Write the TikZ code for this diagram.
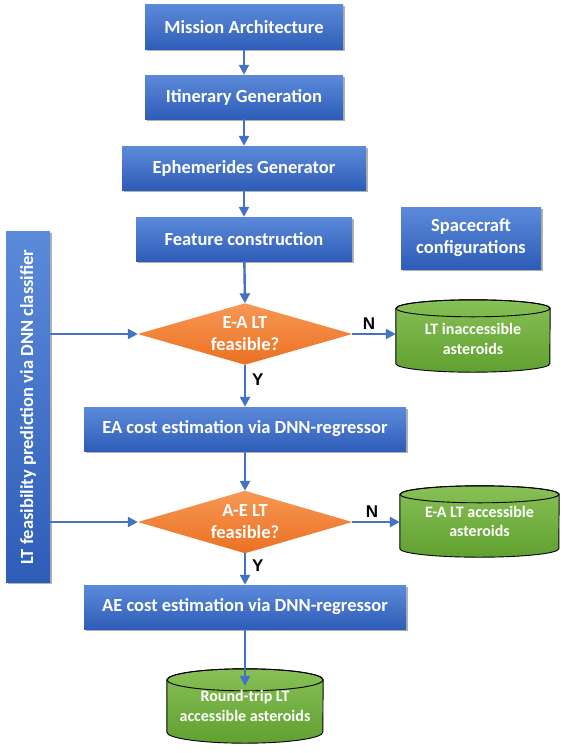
\documentclass[tikz,border=0pt]{standalone}
\usepackage{fontspec}
\setmainfont{Carlito}
\newfontfamily\arialfont{Liberation Sans}
\usetikzlibrary{shadows,arrows.meta,calc,backgrounds}
\definecolor{btop}{RGB}{92,138,218}
\definecolor{bbot}{RGB}{46,93,184}
\definecolor{otop}{RGB}{246,152,84}
\definecolor{obot}{RGB}{236,112,34}
\definecolor{gtop}{RGB}{136,192,86}
\definecolor{gbot}{RGB}{96,160,48}
\definecolor{arr}{RGB}{68,114,196}
\newcommand\cylbody[3]{%
  \path[cylshade] ($(#1.north west)+(0,#3)$) -- ($(#1.south west)+(0,-#3)$)
    arc[start angle=180,end angle=360,x radius=#2pt,y radius=#3pt]
    -- ($(#1.north east)+(0,#3)$)
    arc[start angle=0,end angle=180,x radius=#2pt,y radius=#3pt] -- cycle;
  \draw[cylline] ($(#1.north)+(0,#3)$) ellipse[x radius=#2pt,y radius=#3pt];
}
\begin{document}
\begin{tikzpicture}[x=1pt,y=-1pt,
  txt/.style={text=white,font=\fontsize{18.5}{22}\selectfont\bfseries,align=center,inner sep=0pt},
  box/.style={txt,rectangle,top color=btop,bottom color=bbot,draw=none,
    drop shadow={shadow xshift=1.5pt,shadow yshift=-1.5pt,opacity=0.3,fill=black}},
  dia/.style={txt,rectangle,draw=none},
  cyl/.style={txt,rectangle,draw=none,font=\fontsize{16}{19.5}\selectfont\bfseries},
  diashade/.style={top color=otop,bottom color=obot,draw=none},
  cylshade/.style={top color=gtop,bottom color=gbot,draw=black,line width=0.9pt},
  cylline/.style={draw=black,line width=0.9pt},
  flow/.style={draw=arr,line width=2.4pt,-{Triangle[length=10pt,width=10pt]}},
  yn/.style={font=\arialfont\bfseries\fontsize{17}{19}\selectfont,text=black,inner sep=0pt}]
\useasboundingbox (0,0) rectangle (563,753);
\node[box,minimum width=198pt,minimum height=45pt] (ma) at (244,27) {Mission Architecture};
\node[box,minimum width=198pt,minimum height=44pt] (ig) at (244,97) {Itinerary Generation};
\node[box,minimum width=244pt,minimum height=44pt] (eg) at (244,168) {Ephemerides Generator};
\node[box,minimum width=216pt,minimum height=44pt] (fc) at (244,239) {Feature construction};
\node[box,minimum width=140pt,minimum height=62pt] (sc) at (471,238) {Spacecraft\\configurations};
\node[box,rotate=90,minimum width=351pt,minimum height=44pt] (bar) at (28,407) {LT feasibility prediction via DNN classifier};
\node[dia,minimum width=214pt,minimum height=61pt] (d1) at (245,334) {E-A LT\\feasible?};
\node[cyl,minimum width=154pt,minimum height=72pt] (c1) at (473,336) {\\[-2pt]LT inaccessible\\asteroids};
\node[box,minimum width=322pt,minimum height=44pt] (ea) at (245,429) {EA cost estimation via DNN-regressor};
\node[dia,minimum width=214pt,minimum height=62pt] (d2) at (245,522) {A-E LT\\feasible?};
\node[cyl,minimum width=159pt,minimum height=71pt] (c2) at (479.5,521.5) {E-A LT accessible\\asteroids};
\node[box,minimum width=322pt,minimum height=44pt] (ae) at (245,607) {AE cost estimation via DNN-regressor};
\node[cyl,minimum width=156pt,minimum height=74pt] (c3) at (245,706) {Round-trip LT\\accessible asteroids};
\begin{scope}[on background layer]
  \path[diashade] (d1.north) -- (d1.east) -- (d1.south) -- (d1.west) -- cycle;
  \path[diashade] (d2.north) -- (d2.east) -- (d2.south) -- (d2.west) -- cycle;
  \cylbody{c1}{77}{8.5}
  \cylbody{c2}{79.5}{8.5}
  \cylbody{c3}{78}{11}
\end{scope}
\draw[flow] (ma) -- (ig);
\draw[flow] (ig) -- (eg);
\draw[flow] (eg) -- (fc);
\draw[flow] (fc) -- (d1.north);
\draw[flow] (d1.east) -- (d1.east -| c1.west) node[yn,midway,above=3pt,xshift=-5pt] (n1) {N};
\draw[flow] (d1.south) -- (ea) node[yn,pos=0.35,right=6pt] (y1) {Y};
\draw[flow] (ea) -- (d2.north);
\draw[flow] (d2.east) -- (d2.east -| c2.west) node[yn,midway,above=3pt,xshift=-4pt] (n2) {N};
\draw[flow] (d2.south) -- (ae) node[yn,pos=0.4,right=6pt] (y2) {Y};
\draw[flow] (ae) -- ($(c3.north)+(0,17)$);
\draw[flow] (bar.south |- d1.west) -- (d1.west);
\draw[flow] (bar.south |- d2.west) -- (d2.west);
\end{tikzpicture}
\end{document}
